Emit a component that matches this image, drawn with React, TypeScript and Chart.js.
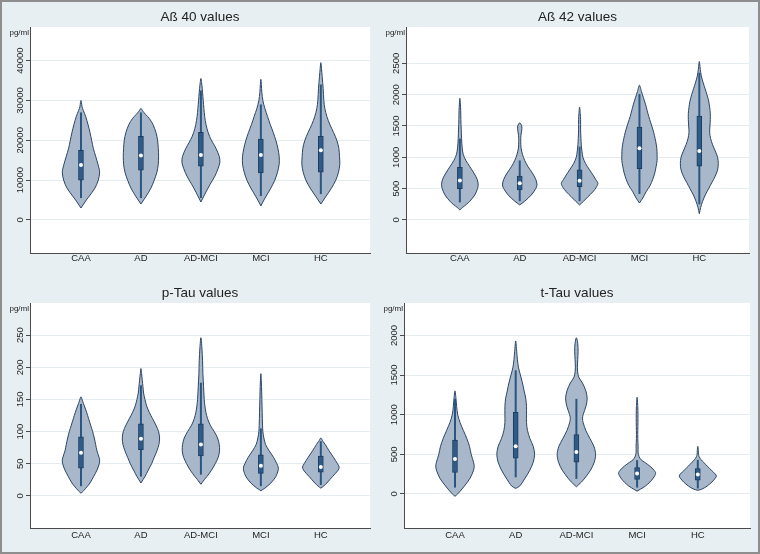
import React, { useEffect, useRef } from "react";
import { Chart, registerables } from "chart.js";

Chart.register(...registerables);

// ---------- categories ----------
const categories = ["CAA", "AD", "AD-MCI", "MCI", "HC"];

// ---------- violin profiles: [value, density] ----------
// Aß 40
const ab40CAA = [[3000, 0], [4000, 8], [5000, 16], [6000, 25], [8000, 42], [10000, 52], [12000, 56], [14000, 51], [16000, 44], [18000, 37], [20000, 32], [22000, 27], [24000, 21], [26000, 14], [27500, 7], [28500, 3], [29500, 1.5], [30000, 0]];
const ab40AD = [[4000, 0], [5000, 8], [6000, 16], [8000, 30], [10000, 40], [12000, 48], [14000, 52], [16000, 53], [18000, 52], [20000, 50], [22000, 45], [24000, 36], [25500, 25], [26500, 14], [27300, 6], [28000, 0]];
const ab40ADMCI = [[4500, 0], [5500, 6], [7000, 15], [9000, 28], [11000, 42], [13000, 52], [14500, 57], [16000, 55], [18000, 45], [19500, 35], [21000, 26], [23000, 18], [25000, 13], [27000, 10], [29000, 8], [31000, 6], [33000, 4], [34500, 2], [35500, 0]];
const ab40MCI = [[3500, 0], [4500, 6], [6000, 16], [8000, 30], [10000, 42], [12000, 50], [14000, 55], [16000, 55], [18000, 51], [20000, 45], [22000, 37], [24000, 28], [26000, 20], [28000, 12], [30000, 6], [32000, 3], [34000, 1.5], [35300, 0]];
const ab40HC = [[4000, 0], [5000, 8], [6000, 16], [8000, 32], [10000, 45], [12000, 53], [14000, 57], [16000, 56], [18000, 54], [20000, 48], [22000, 38], [24000, 27], [26000, 18], [28000, 12], [30000, 9], [33000, 7], [36000, 4], [38000, 2], [39500, 0]];
const ab40Low = [5500, 5500, 5500, 6000, 6500];
const ab40Q1 = [10000, 12500, 13500, 11800, 12000];
const ab40Median = [13800, 16200, 16300, 16300, 17500];
const ab40Q3 = [17500, 21000, 22000, 20300, 21000];
const ab40High = [27000, 27000, 32500, 29000, 34000];
const ab40Ticks = [0, 10000, 20000, 30000, 40000];

// Aß 42
const ab42CAA = [[160, 0], [200, 8], [250, 20], [300, 30], [400, 45], [500, 53], [560, 55], [650, 52], [750, 42], [850, 30], [950, 18], [1050, 10], [1150, 7], [1300, 5], [1450, 4], [1600, 3], [1750, 2.5], [1850, 1.5], [1940, 0]];
const ab42AD = [[240, 0], [300, 15], [400, 35], [500, 48], [560, 52], [650, 48], [750, 38], [850, 25], [950, 15], [1050, 8], [1150, 4], [1250, 3], [1350, 3.5], [1430, 6], [1500, 6], [1550, 0]];
const ab42ADMCI = [[240, 0], [300, 12], [370, 25], [450, 40], [520, 50], [585, 55], [650, 48], [720, 40], [800, 30], [900, 18], [1000, 10], [1100, 7], [1200, 5], [1300, 4], [1450, 3], [1600, 3], [1700, 2], [1800, 0]];
const ab42MCI = [[270, 0], [350, 10], [450, 20], [550, 32], [650, 40], [750, 46], [850, 50], [950, 53], [1050, 53], [1150, 52], [1250, 49], [1350, 45], [1450, 40], [1550, 34], [1650, 28], [1750, 23], [1850, 18], [1950, 12], [2050, 6], [2150, 0]];
const ab42HC = [[100, 0], [200, 4], [300, 10], [400, 18], [500, 28], [600, 38], [700, 48], [800, 55], [900, 57], [1000, 55], [1100, 48], [1200, 40], [1300, 34], [1400, 31], [1500, 32], [1600, 33], [1700, 33], [1800, 31], [1900, 28], [2000, 23], [2100, 17], [2200, 11], [2300, 6], [2400, 3], [2500, 1], [2530, 0]];
const ab42Low = [280, 300, 300, 415, 250];
const ab42Q1 = [500, 480, 530, 820, 860];
const ab42Median = [630, 585, 627, 1143, 1100];
const ab42Q3 = [840, 700, 800, 1484, 1660];
const ab42High = [1300, 950, 1170, 2010, 2350];
const ab42Ticks = [0, 500, 1000, 1500, 2000, 2500];

// p-Tau
const ptauCAA = [[4, 0], [8, 8], [14, 18], [20, 27], [30, 38], [40, 48], [50, 55], [56, 56], [62, 53], [70, 48], [80, 44], [90, 40], [100, 35], [110, 29], [120, 23], [130, 17], [140, 10], [147, 5], [154, 0]];
const ptauAD = [[20, 0], [25, 6], [30, 12], [40, 22], [50, 32], [60, 40], [70, 48], [80, 54], [90, 56], [100, 53], [110, 45], [120, 35], [130, 25], [140, 17], [150, 12], [160, 8], [170, 6], [180, 4], [190, 2], [198, 0]];
const ptauADMCI = [[18, 0], [25, 10], [30, 18], [40, 32], [50, 43], [60, 52], [70, 56], [80, 55], [90, 50], [100, 40], [110, 28], [120, 20], [130, 15], [140, 12], [150, 10], [170, 8], [190, 6], [210, 5], [230, 3], [246, 0]];
const ptauMCI = [[8, 0], [12, 12], [20, 30], [30, 45], [40, 52], [45, 52], [50, 48], [60, 38], [70, 25], [80, 14], [90, 9], [100, 6], [110, 5], [130, 4], [150, 3], [170, 2], [190, 0]];
const ptauHC = [[12, 0], [15, 8], [20, 18], [30, 35], [40, 52], [45, 55], [50, 50], [60, 38], [70, 25], [80, 13], [85, 6], [90, 0]];
const ptauLow = [15, 30, 33, 15, 17];
const ptauQ1 = [43, 72, 62, 35, 37];
const ptauMedian = [67, 89, 80, 47, 45];
const ptauQ3 = [92, 112, 112, 64, 62];
const ptauHigh = [143, 172, 176, 105, 85];
const ptauTicks = [0, 50, 100, 150, 200, 250];

// t-Tau
const ttauCAA = [[-30, 0], [0, 8], [100, 28], [200, 45], [300, 55], [350, 57], [400, 55], [500, 48], [600, 43], [700, 35], [800, 25], [900, 15], [1000, 8], [1100, 5], [1200, 3], [1300, 0]];
const ttauAD = [[70, 0], [100, 12], [200, 28], [300, 42], [400, 52], [500, 56], [600, 52], [700, 42], [800, 35], [900, 32], [1000, 32], [1100, 32], [1200, 30], [1300, 25], [1400, 20], [1500, 14], [1600, 8], [1700, 5], [1800, 3], [1930, 0]];
const ttauADMCI = [[90, 0], [150, 15], [200, 25], [300, 42], [400, 53], [500, 57], [600, 52], [700, 40], [800, 28], [900, 20], [950, 18], [1000, 20], [1100, 28], [1200, 32], [1300, 28], [1400, 18], [1450, 10], [1500, 5], [1600, 3], [1700, 4], [1800, 5], [1900, 4], [1970, 0]];
const ttauMCI = [[35, 0], [60, 10], [100, 25], [150, 38], [200, 48], [260, 55], [300, 50], [350, 38], [400, 22], [430, 12], [470, 6], [520, 3], [600, 3], [700, 2], [800, 2], [900, 2.5], [1000, 2.5], [1100, 2], [1220, 0]];
const ttauHC = [[45, 0], [60, 12], [100, 28], [150, 42], [200, 52], [225, 55], [250, 52], [300, 40], [350, 28], [400, 17], [430, 10], [470, 4], [500, 2], [550, 1.5], [600, 0]];
const ttauLow = [80, 210, 190, 80, 68];
const ttauQ1 = [270, 450, 400, 182, 173];
const ttauMedian = [440, 600, 530, 258, 245];
const ttauQ3 = [680, 1030, 750, 333, 321];
const ttauHigh = [1200, 1560, 1200, 426, 430];
const ttauTicks = [0, 500, 1000, 1500, 2000];

// ---------- styles ----------
const FONT = '"Liberation Sans", Arial, Helvetica, sans-serif';
const TEXT = "#222222";
const BG = "#e8eff2";
const GRID = "#e4ecef";
const AXIS = "#4a4a4a";
const VIOLIN_FILL = "#a8b8ca";
const VIOLIN_LINE = "#2b4566";
const BOX_FILL = "#2e5b88";
const BOX_LINE = "#1d3d60";
const WHISKER = "#2a5580";
const WIDTH_SCALE = 1 / 180;

const panelLabels = {
  id: "panelLabels",
  beforeDraw(chart: any) {
    const { ctx, chartArea } = chart;
    ctx.save();
    ctx.fillStyle = "#ffffff";
    ctx.fillRect(chartArea.left, chartArea.top, chartArea.right - chartArea.left, chartArea.bottom - chartArea.top);
    ctx.restore();
  },
  afterDraw(chart: any, _args: any, opts: any) {
    const { ctx, chartArea } = chart;
    const y = chart.scales.y;
    ctx.save();
    ctx.fillStyle = TEXT;
    ctx.font = `9.5px ${FONT}`;
    for (const t of y.ticks) {
      const py = y.getPixelForValue(t.value);
      ctx.save();
      ctx.translate(chartArea.left - 10, py);
      ctx.rotate(-Math.PI / 2);
      ctx.textAlign = "center";
      ctx.textBaseline = "middle";
      ctx.fillText(String(t.value), 0, 0);
      ctx.restore();
    }
    ctx.font = `8px ${FONT}`;
    ctx.textAlign = "right";
    ctx.textBaseline = "middle";
    ctx.fillText(opts.unit || "pg/ml", chartArea.left - 1, chartArea.top + 5.5);
    ctx.restore();
  },
};

function buildDatasets(profiles: number[][][], low: number[], q1: number[], med: number[], q3: number[], high: number[]) {
  const ds: any[] = [];
  profiles.forEach((p, i) => {
    const c = i + 1;
    const right = p.map(([v, d]) => ({ x: c + d * WIDTH_SCALE, y: v }));
    const left = p.slice(0, -1).reverse().map(([v, d]) => ({ x: c - d * WIDTH_SCALE, y: v }));
    ds.push({
      type: "scatter",
      data: [...right, ...left],
      showLine: true,
      fill: "shape",
      backgroundColor: VIOLIN_FILL,
      borderColor: VIOLIN_LINE,
      borderWidth: 1,
      pointRadius: 0,
      tension: 0.3,
      order: 4,
    });
  });
  categories.forEach((_, i) => {
    ds.push({
      type: "scatter",
      data: [{ x: i + 1, y: low[i] }, { x: i + 1, y: high[i] }],
      showLine: true,
      borderColor: WHISKER,
      borderWidth: 2,
      pointRadius: 0,
      order: 3,
    });
  });
  ds.push({
    type: "bar",
    data: categories.map((_, i) => ({ x: i + 1, y: [q1[i], q3[i]] })),
    backgroundColor: BOX_FILL,
    borderColor: BOX_LINE,
    borderWidth: 1,
    borderSkipped: false,
    barThickness: 5,
    order: 2,
  });
  ds.push({
    type: "scatter",
    data: med.map((m, i) => ({ x: i + 1, y: m })),
    pointRadius: 2,
    pointBackgroundColor: "#ffffff",
    pointBorderWidth: 0,
    showLine: false,
    order: 1,
  });
  return ds;
}

const panels = [
  {
    key: "ab40", title: "Aß 40 values", left: 0, top: 0,
    datasets: () => buildDatasets([ab40CAA, ab40AD, ab40ADMCI, ab40MCI, ab40HC], ab40Low, ab40Q1, ab40Median, ab40Q3, ab40High),
    ticks: ab40Ticks, yMin: -8300, yMax: 48450, xMin: 0.15, xMax: 5.82,
    axisW: 30, padRight: 10, titleTop: 9.2, titleBottom: 1.6, padBottom: 4, labelPad: 0,
  },
  {
    key: "ab42", title: "Aß 42 values", left: 380, top: 0,
    datasets: () => buildDatasets([ab42CAA, ab42AD, ab42ADMCI, ab42MCI, ab42HC], ab42Low, ab42Q1, ab42Median, ab42Q3, ab42High),
    ticks: ab42Ticks, yMin: -527, yMax: 3080, xMin: 0.1, xMax: 5.83,
    axisW: 26, padRight: 11, titleTop: 9.2, titleBottom: 1.6, padBottom: 4, labelPad: 0,
  },
  {
    key: "ptau", title: "p-Tau values", left: 0, top: 277,
    datasets: () => buildDatasets([ptauCAA, ptauAD, ptauADMCI, ptauMCI, ptauHC], ptauLow, ptauQ1, ptauMedian, ptauQ3, ptauHigh),
    ticks: ptauTicks, yMin: -50, yMax: 300, xMin: 0.15, xMax: 5.82,
    axisW: 30, padRight: 10, titleTop: 8.6, titleBottom: 1.2, padBottom: 6, labelPad: 2,
  },
  {
    key: "ttau", title: "t-Tau values", left: 380, top: 277,
    datasets: () => buildDatasets([ttauCAA, ttauAD, ttauADMCI, ttauMCI, ttauHC], ttauLow, ttauQ1, ttauMedian, ttauQ3, ttauHigh),
    ticks: ttauTicks, yMin: -430, yMax: 2409, xMin: 0.16, xMax: 5.86,
    axisW: 24, padRight: 10, titleTop: 8.6, titleBottom: 1.2, padBottom: 6, labelPad: 2,
  },
];

function Panel({ spec }: { spec: any }) {
  const ref = useRef<HTMLCanvasElement | null>(null);
  useEffect(() => {
    if (!ref.current) return;
    const chart = new Chart(ref.current, {
      type: "scatter",
      data: { datasets: spec.datasets() },
      plugins: [panelLabels],
      options: {
        responsive: false,
        animation: false,
        devicePixelRatio: 1,
        layout: { padding: { left: 0, right: spec.padRight, top: 0, bottom: spec.padBottom } },
        plugins: {
          legend: { display: false },
          tooltip: { enabled: false },
          title: {
            display: true,
            text: spec.title,
            fullSize: false,
            color: TEXT,
            font: { family: FONT, size: 13.5, weight: "normal" },
            padding: { top: spec.titleTop, bottom: spec.titleBottom },
          },
          panelLabels: { unit: "pg/ml" },
        } as any,
        scales: {
          x: {
            type: "linear",
            min: spec.xMin,
            max: spec.xMax,
            offset: false,
            grid: { display: false, drawTicks: false },
            border: { display: true, color: AXIS, width: 1 },
            afterBuildTicks: (s: any) => { s.ticks = categories.map((_, i) => ({ value: i + 1 })); },
            afterFit: (s: any) => { s.height = 20; },
            ticks: {
              autoSkip: false,
              maxRotation: 0,
              padding: spec.labelPad,
              color: TEXT,
              font: { family: FONT, size: 9.5 },
              callback: (v: any) => categories[Math.round(Number(v)) - 1] ?? "",
            },
          },
          y: {
            type: "linear",
            min: spec.yMin,
            max: spec.yMax,
            beginAtZero: false,
            grid: { color: GRID, lineWidth: 1, tickColor: AXIS, tickLength: 4, drawTicks: true },
            border: { display: true, color: AXIS, width: 1 },
            afterBuildTicks: (s: any) => { s.ticks = spec.ticks.map((v: number) => ({ value: v })); },
            afterFit: (s: any) => { s.width = spec.axisW; },
            ticks: { display: false },
          },
        },
      } as any,
    });
    return () => chart.destroy();
  }, [spec]);
  return (
    <canvas
      ref={ref}
      width={380}
      height={277}
      style={{ position: "absolute", left: spec.left, top: spec.top, width: 380, height: 277 }}
    />
  );
}

export default function App() {
  return (
    <div style={{ position: "fixed", left: 0, top: 0, width: 760, height: 554, background: BG, overflow: "hidden" }}>
      {panels.map((p) => (
        <Panel key={p.key} spec={p} />
      ))}
      <div
        style={{
          position: "absolute", left: 0, top: 0, width: 760, height: 554,
          border: "2px solid #8e8e8e", boxSizing: "border-box", pointerEvents: "none",
        }}
      />
    </div>
  );
}
